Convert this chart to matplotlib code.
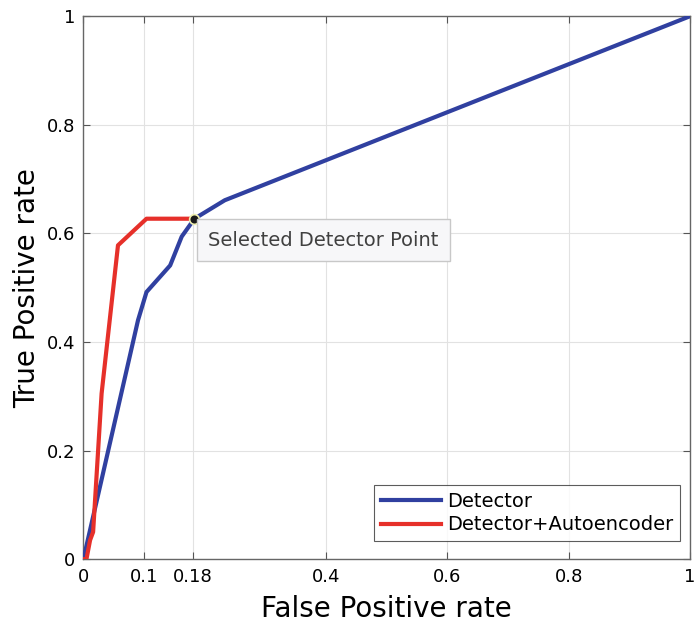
import matplotlib
matplotlib.use("Agg")
import matplotlib.pyplot as plt

# ROC curves
det_fpr = [0.0, 0.09, 0.104, 0.143, 0.162, 0.183, 0.233, 1.0]
det_tpr = [0.0, 0.44, 0.492, 0.541, 0.594, 0.627, 0.661, 1.0]

ae_fpr = [0.0, 0.005, 0.011, 0.016, 0.030, 0.057, 0.104, 0.183]
ae_tpr = [0.0, 0.0, 0.035, 0.05, 0.305, 0.578, 0.627, 0.627]

sel_point = (0.183, 0.627)
sel_label = "Selected Detector Point"

xticks = [0, 0.1, 0.18, 0.4, 0.6, 0.8, 1]
xtick_labels = ["0", "0.1", "0.18", "0.4", "0.6", "0.8", "1"]
yticks = [0, 0.2, 0.4, 0.6, 0.8, 1]
ytick_labels = ["0", "0.2", "0.4", "0.6", "0.8", "1"]

fig = plt.figure(figsize=(6.95, 6.22), dpi=100)
ax = fig.add_axes([0.120, 0.101, 0.873, 0.873])

ax.plot(det_fpr, det_tpr, color="#3040A0", lw=3, label="Detector", zorder=3)
ax.plot(ae_fpr, ae_tpr, color="#E6302A", lw=3, label="Detector+Autoencoder", zorder=3)

ax.plot(*sel_point, "o", ms=7, mfc="#1a1a1a", mec="#f0f0b0", mew=1.2, zorder=5)
ax.annotate(sel_label, xy=sel_point, xytext=(10, -8.5), textcoords="offset points",
            ha="left", va="top", fontsize=14, color="#404040",
            bbox=dict(boxstyle="square,pad=0.6", fc="#f7f7f9", ec="#c8c8c8", lw=1),
            zorder=6)

ax.set_xlim(0, 1)
ax.set_ylim(0, 1)
ax.set_xticks(xticks)
ax.set_xticklabels(xtick_labels)
ax.set_yticks(yticks)
ax.set_yticklabels(ytick_labels)
ax.tick_params(direction="in", length=5, width=0.8, color="#555555",
               labelsize=13, top=True, right=True, pad=6)
ax.grid(True, color="#e2e2e2", lw=0.8)
ax.set_axisbelow(True)
for s in ax.spines.values():
    s.set_color("#666666")
    s.set_linewidth(1)

ax.set_xlabel("False Positive rate", fontsize=20, labelpad=6.5)
ax.set_ylabel("True Positive rate", fontsize=20, labelpad=4)

leg = ax.legend(loc="lower right", bbox_to_anchor=(0.9835, 0.033), fontsize=14,
                handlelength=3.1, frameon=True, fancybox=False, edgecolor="#333333",
                borderpad=0.35, labelspacing=0.22, handletextpad=0.3, borderaxespad=0)
leg.get_frame().set_linewidth(0.8)

fig.savefig("out.png", dpi=100)
